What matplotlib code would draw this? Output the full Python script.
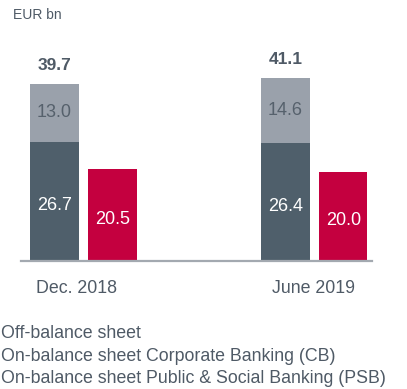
import matplotlib.pyplot as plt
import numpy as np

plt.rcParams['font.family'] = ['Liberation Sans', 'DejaVu Sans']

# data
periods = ['Dec. 2018', 'June 2019']
cb_on = [26.7, 26.4]
off_bal = [13.0, 14.6]
psb_on = [20.5, 20.0]
totals = [39.7, 41.1]
legend_labels = ['Off-balance sheet',
                 'On-balance sheet Corporate Banking (CB)',
                 'On-balance sheet Public & Social Banking (PSB)']

c_light = '#9aa1ab'
c_dark = '#4f5f6b'
c_red = '#c4003f'
c_text = '#4f5a66'

fig = plt.figure(figsize=(4.07, 3.89), dpi=100)
ax = fig.add_axes([21 / 407, 128 / 389, 351 / 407, 221 / 389])

x = np.arange(len(periods))
w = 0.208
off = 0.1255

ax.bar(x - off, cb_on, w, color=c_dark)
ax.bar(x - off, off_bal, w, bottom=cb_on, color=c_light)
ax.bar(x + off, psb_on, w, color=c_red)

for i in range(len(periods)):
    ax.text(x[i] - off, cb_on[i] / 2 - 1, f'{cb_on[i]:.1f}', ha='center', va='center',
            color='white', fontsize=13)
    ax.text(x[i] - off, cb_on[i] + off_bal[i] / 2, f'{off_bal[i]:.1f}', ha='center',
            va='center', color='#56616c', fontsize=13)
    ax.text(x[i] + off, psb_on[i] / 2 - 1, f'{psb_on[i]:.1f}', ha='center', va='center',
            color='white', fontsize=13)
    ax.annotate(f'{totals[i]:.1f}', (x[i] - off, cb_on[i] + off_bal[i]),
                xytext=(0, 10), textcoords='offset points', ha='center', va='baseline',
                fontsize=12.5, fontweight='bold', color=c_text)

ax.set_xlim(-0.2706, 1.249)
ax.set_ylim(0, 49.5)
ax.set_xticks(x - np.array([0.032, 0.006]))
ax.set_xticklabels(periods, fontsize=12.8, color=c_text)
ax.tick_params(axis='x', length=0, pad=14)
ax.set_yticks([])
for s in ['top', 'right', 'left']:
    ax.spines[s].set_visible(False)
ax.spines['bottom'].set_color('#a3a9b0')
ax.spines['bottom'].set_linewidth(1.6)

fig.text(13 / 407, 1 - 19 / 389, 'EUR bn', fontsize=10, color=c_text, va='baseline')

for lbl, yb in zip(legend_labels, [338, 361, 383]):
    fig.text(1 / 407, 1 - yb / 389, lbl, fontsize=12.8, color=c_text, va='baseline')

fig.savefig('out.png', dpi=100)
